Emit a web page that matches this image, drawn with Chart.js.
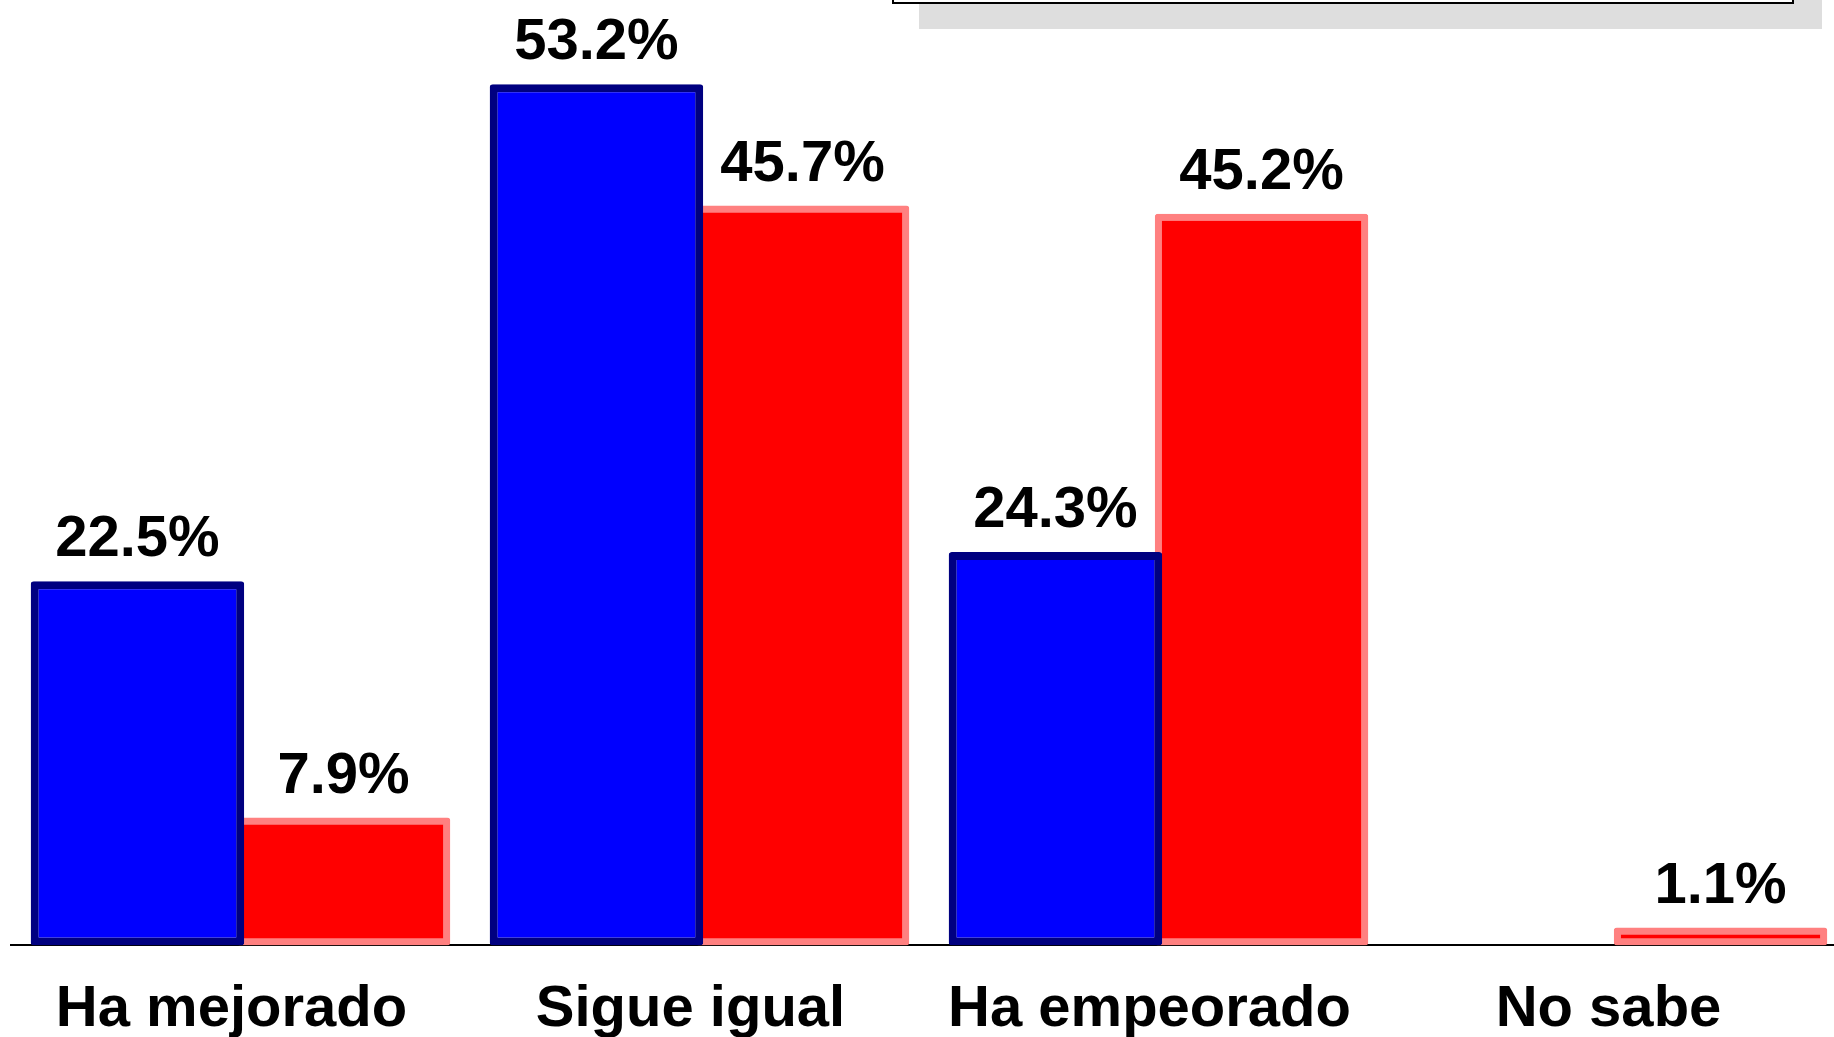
<!DOCTYPE html>
<html>
<head>
<meta charset="utf-8">
<script src="https://cdn.jsdelivr.net/npm/chart.js@4/dist/chart.umd.min.js"></script>
<style>
  html, body { margin: 0; padding: 0; background: #ffffff; overflow: hidden; width: 1834px; height: 1037px; }
  #wrap { position: absolute; left: 0; top: 0; width: 1850px; height: 1075px; }
</style>
</head>
<body>
<div id="wrap"><canvas id="c"></canvas></div>
<script>
const categories = ['Ha mejorado', 'Sigue igual', 'Ha empeorado', 'No sabe'];
const seriesBlue = [22.5, 53.2, 24.3, null];
const seriesRed = [7.9, 45.7, 45.2, 1.1];
const yMax = 58.4;

const valueLabels = {
  id: 'valueLabels',
  afterDatasetsDraw(chart) {
    const ctx = chart.ctx;
    ctx.save();
    ctx.font = 'bold 58px "Liberation Sans", Arial, sans-serif';
    ctx.fillStyle = '#000000';
    ctx.textAlign = 'center';
    ctx.textBaseline = 'alphabetic';
    chart.data.datasets.forEach((ds, i) => {
      const meta = chart.getDatasetMeta(i);
      meta.data.forEach((el, j) => {
        const v = ds.data[j];
        if (v === null || v === undefined) return;
        ctx.fillText(v.toFixed(1) + '%', el.x, el.y - 25);
      });
    });
    ctx.restore();
  }
};

const legendFrame = {
  id: 'legendFrame',
  beforeDraw(chart) {
    const ctx = chart.ctx;
    ctx.save();
    ctx.fillStyle = '#dedede';
    ctx.fillRect(919, 0, 903, 29);
    ctx.fillStyle = '#ffffff';
    ctx.fillRect(892, 0, 902, 4);
    ctx.strokeStyle = '#000000';
    ctx.lineWidth = 2;
    ctx.beginPath();
    ctx.moveTo(893, -2);
    ctx.lineTo(893, 3);
    ctx.lineTo(1793, 3);
    ctx.lineTo(1793, -2);
    ctx.stroke();
    ctx.restore();
  }
};

new Chart(document.getElementById('c'), {
  type: 'bar',
  data: {
    labels: categories,
    datasets: [
      {
        label: 'Serie 1',
        data: seriesBlue,
        backgroundColor: '#0000ff',
        borderColor: '#000080',
        borderWidth: 8,
        borderSkipped: false,
        borderRadius: 3,
        categoryPercentage: 0.898,
        barPercentage: 1.036
      },
      {
        label: 'Serie 2',
        data: seriesRed,
        backgroundColor: '#ff0000',
        borderColor: '#ff8080',
        borderWidth: 7,
        borderSkipped: false,
        borderRadius: 3,
        categoryPercentage: 0.898,
        barPercentage: 1.036
      }
    ]
  },
  options: {
    responsive: true,
    maintainAspectRatio: false,
    animation: false,
    devicePixelRatio: 1,
    layout: { padding: { left: 11, right: 3, top: 0, bottom: 0 } },
    plugins: {
      legend: { display: false },
      tooltip: { enabled: false }
    },
    scales: {
      x: {
        grid: { display: false, drawTicks: false },
        border: { display: true, color: '#000000', width: 2 },
        ticks: {
          color: '#000000',
          padding: 30,
          labelOffset: -9,
          font: { family: '"Liberation Sans", Arial, sans-serif', size: 58, weight: 'bold', lineHeight: 1.2 }
        }
      },
      y: {
        display: false,
        min: 0,
        max: yMax
      }
    }
  },
  plugins: [legendFrame, valueLabels]
});
</script>
</body>
</html>
